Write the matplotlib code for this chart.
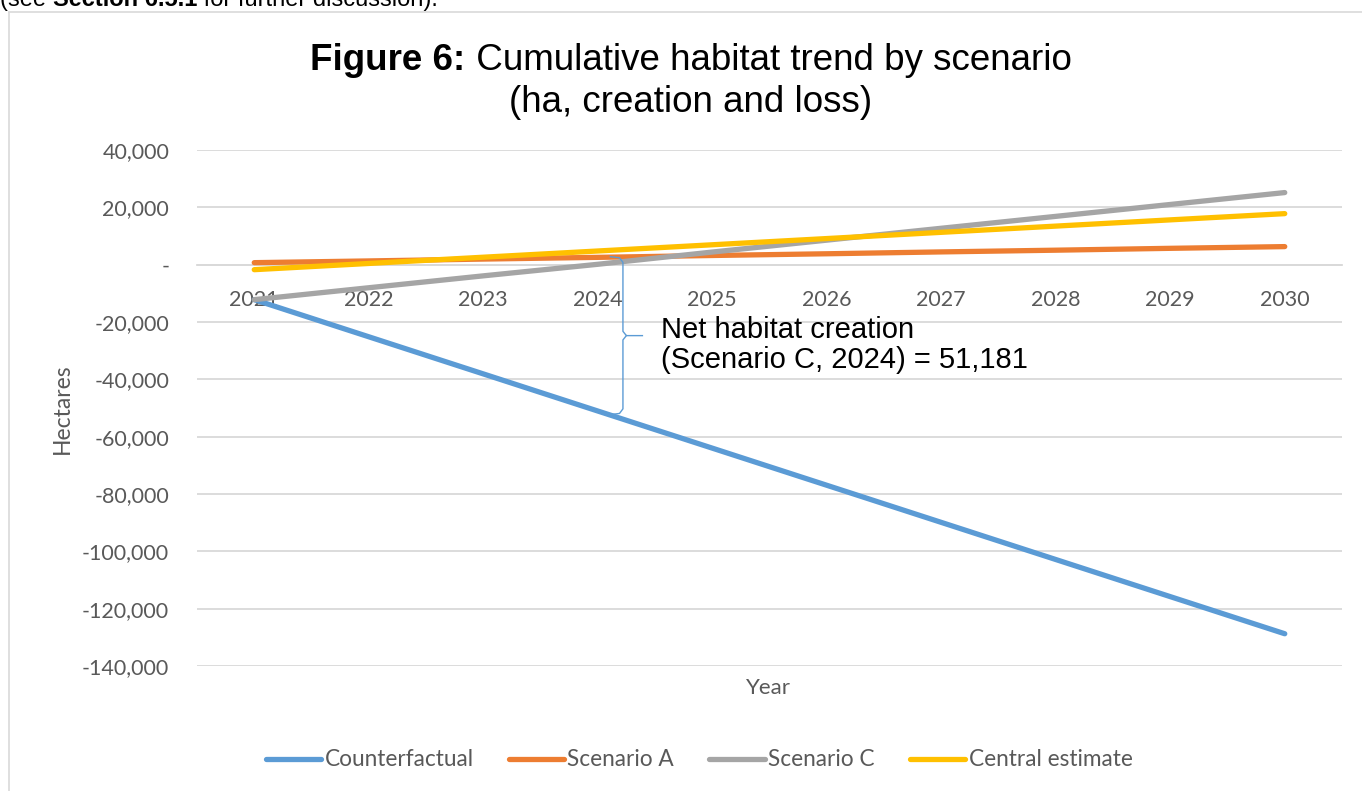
import matplotlib
matplotlib.use("Agg")
import matplotlib.pyplot as plt
from matplotlib.lines import Line2D

years = [2021, 2022, 2023, 2024, 2025, 2026, 2027, 2028, 2029, 2030]
counterfactual = [-12200, -25150, -38100, -51050, -64000, -76950, -89900, -102850, -115800, -128750]
scenario_a = [700, 1300, 1950, 2550, 3200, 3800, 4450, 5050, 5700, 6300]
scenario_c = [-12200, -8050, -3900, 130, 4400, 8550, 12700, 16850, 21000, 25150]
central = [-1750, 420, 2600, 4770, 6940, 9110, 11280, 13450, 15630, 17800]

series_names = ["Counterfactual", "Scenario A", "Scenario C", "Central estimate"]
series_values = [counterfactual, scenario_a, scenario_c, central]
series_colors = ["#5B9BD5", "#ED7D31", "#A5A5A5", "#FFC000"]

yticks = [40000, 20000, 0, -20000, -40000, -60000, -80000, -100000, -120000, -140000]
ytick_labels = ["40,000", "20,000", "-", "-20,000", "-40,000", "-60,000", "-80,000",
                "-100,000", "-120,000", "-140,000"]

annot_year = 2024
annot_text = "Net habitat creation\n(Scenario C, 2024) = 51,181"

cal = "Lato"
arial = "Liberation Sans"

W, H = 1362, 791
fig = plt.figure(figsize=(W / 100, H / 100), dpi=100)

def fx(px):
    return px / W

def fy(py):
    return 1 - py / H

ax = fig.add_axes([fx(197), fy(666), fx(1342) - fx(197), fy(150) - fy(666)])

for name, vals, col in zip(series_names, series_values, series_colors):
    ax.plot(years, vals, color=col, lw=3.8, solid_capstyle="round", label=name, zorder=3)

ax.set_xlim(2020.5, 2030.5)
ax.set_ylim(-140000, 40000)
ax.set_yticks(yticks)
ax.set_yticklabels(ytick_labels)
ax.set_xticks(years)
ax.set_xticklabels([str(y) for y in years])
ax.grid(axis="y", color="#D9D9D9", lw=1.3, zorder=0)
ax.set_axisbelow(True)
for s in ["top", "right", "left"]:
    ax.spines[s].set_visible(False)
ax.spines["bottom"].set_position(("data", 0))
ax.spines["bottom"].set_color("#D9D9D9")
ax.spines["bottom"].set_linewidth(1.3)
ax.tick_params(axis="both", length=0, colors="#595959", labelsize=15.5)
ax.tick_params(axis="y", pad=20)
ax.tick_params(axis="x", pad=18)
for lab in ax.get_xticklabels() + ax.get_yticklabels():
    lab.set_fontfamily(cal)

fig.text(fx(768), fy(688), "Year", ha="center", va="center", fontsize=16,
         color="#595959", family=cal)
fig.text(fx(62), fy(409), "Hectares", ha="center", va="center", rotation=90,
         fontsize=16.5, color="#595959", family=cal)

# brace annotation (curly bracket between counterfactual and scenario C at 2024)
bx = annot_year + 0.22
top = 2800
bot = -52300
mid = (top + bot) / 2
hook = 0.11
tip = 0.17
ax.plot([bx - hook, bx - 0.03, bx, bx, bx + 0.03, bx + tip],
        [top, top - 400, top - 2000, mid + 1500, mid, mid],
        color="#5B9BD5", lw=1.0, zorder=4)
ax.plot([bx - hook, bx - 0.03, bx, bx, bx + 0.03],
        [bot, bot + 400, bot + 2000, mid - 1500, mid],
        color="#5B9BD5", lw=1.0, zorder=4)
fig.text(fx(661), fy(368), annot_text, ha="left", va="baseline", fontsize=21,
         family=arial, color="black", linespacing=1.1)

# legend
handles = [Line2D([0], [0], color=c, lw=3.8, solid_capstyle="round") for c in series_colors]
leg = fig.legend(handles, series_names, loc="center", bbox_to_anchor=(fx(699), fy(760)),
                 ncol=4, frameon=False, handlelength=2.45, handletextpad=0.15,
                 columnspacing=1.55, prop={"family": cal, "size": 16.3})
for t in leg.get_texts():
    t.set_color("#595959")

# title with mixed weights
fig.canvas.draw()
r = fig.canvas.get_renderer()
t1 = fig.text(0, fy(70), "Figure 6:", fontsize=26.5, fontweight="bold", family=arial,
              va="baseline", ha="left")
t2 = fig.text(0, fy(70), " Cumulative habitat trend by scenario", fontsize=26.5, family=arial,
              va="baseline", ha="left")
w1 = t1.get_window_extent(r).width
w2 = t2.get_window_extent(r).width
x0 = 691 - (w1 + w2) / 2
t1.set_x(fx(x0))
t2.set_x(fx(x0 + w1))
fig.text(fx(691), fy(112), "(ha, creation and loss)", fontsize=26.5, family=arial,
         va="baseline", ha="center")

# chart frame (partially visible)
fig.add_artist(Line2D([fx(9), 1], [fy(12), fy(12)], color="#D9D9D9", lw=1.2))
fig.add_artist(Line2D([fx(9), fx(9)], [fy(12), 0], color="#D9D9D9", lw=1.2))

# cut-off text at top of page (as in the source image)
ta = fig.text(fx(0), fy(6), "(see ", fontsize=17, family=arial, va="baseline")
fig.canvas.draw()
wa = ta.get_window_extent(r).width
tb = fig.text(fx(wa), fy(6), "Section 6.5.1", fontsize=17, family=arial,
              fontweight="bold", va="baseline")
wb = tb.get_window_extent(r).width
fig.text(fx(wa + wb), fy(6), " for further discussion).", fontsize=17,
         family=arial, va="baseline")

fig.savefig("out.png", dpi=100, facecolor="white")
